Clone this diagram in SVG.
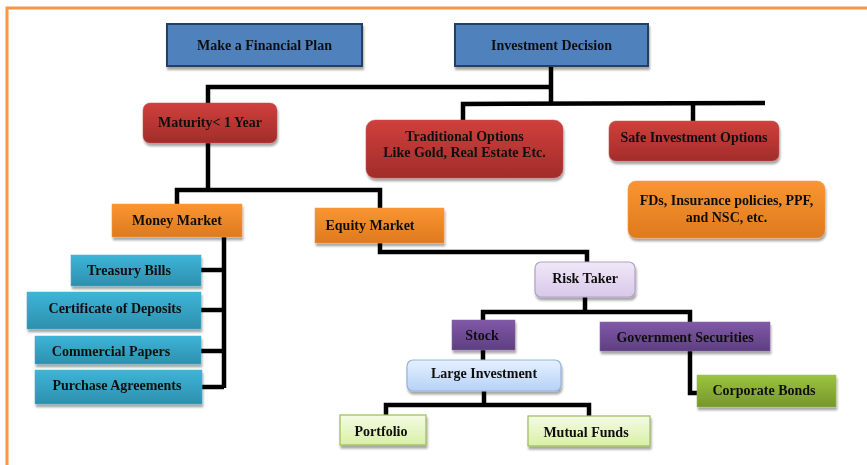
<svg xmlns="http://www.w3.org/2000/svg" width="867" height="465" viewBox="0 0 867 465">
<defs>
<filter id="sh" x="-10%" y="-10%" width="130%" height="140%"><feDropShadow dx="1" dy="3" stdDeviation="1.2" flood-color="#000" flood-opacity="0.35"/></filter>
<linearGradient id="gRed" x1="0" y1="0" x2="0" y2="1"><stop offset="0" stop-color="#CF403C"/><stop offset="1" stop-color="#A22C2A"/></linearGradient>
<linearGradient id="gOr" x1="0" y1="0" x2="0" y2="1"><stop offset="0" stop-color="#FA9532"/><stop offset="1" stop-color="#DE7A1E"/></linearGradient>
<linearGradient id="gTeal" x1="0" y1="0" x2="0" y2="1"><stop offset="0" stop-color="#3DB5D8"/><stop offset="1" stop-color="#2E8FAE"/></linearGradient>
<linearGradient id="gPur" x1="0" y1="0" x2="0" y2="1"><stop offset="0" stop-color="#8058A8"/><stop offset="1" stop-color="#5E3F80"/></linearGradient>
<linearGradient id="gGrn" x1="0" y1="0" x2="0" y2="1"><stop offset="0" stop-color="#9CC43F"/><stop offset="1" stop-color="#76962C"/></linearGradient>
<linearGradient id="gLg" x1="0" y1="0" x2="0" y2="1"><stop offset="0" stop-color="#F4FBE4"/><stop offset="1" stop-color="#D9F0A6"/></linearGradient>
<linearGradient id="gLp" x1="0" y1="0" x2="0" y2="1"><stop offset="0" stop-color="#F0E8F7"/><stop offset="1" stop-color="#D8C8EA"/></linearGradient>
<linearGradient id="gLb" x1="0" y1="0" x2="0" y2="1"><stop offset="0" stop-color="#E6F0FF"/><stop offset="1" stop-color="#B6D2F7"/></linearGradient>
</defs>
<style>
text{font-family:"Liberation Serif","Times New Roman",serif;font-weight:bold;font-size:14px;fill:#111;text-anchor:middle}
.blue{fill:#4F81BD;stroke:#243F60;stroke-width:2}
.red{fill:url(#gRed);stroke:#C0504D;stroke-width:0.5}
.or{fill:url(#gOr);stroke:#F79646;stroke-width:0.5}
.teal{fill:url(#gTeal);stroke:#4BACC6;stroke-width:0.5}
.pur{fill:url(#gPur);stroke:#8064A2;stroke-width:0.5}
.grn{fill:url(#gGrn);stroke:#9BBB59;stroke-width:0.5}
.lg{fill:url(#gLg);stroke:#9BBB59;stroke-width:1.2}
.lp{fill:url(#gLp);stroke:#B2A1C7;stroke-width:1.2}
.lb{fill:url(#gLb);stroke:#95B3D7;stroke-width:1.2}
.box{filter:url(#sh)}
#connectors path{fill:none;stroke:#000;stroke-width:4.5;stroke-linejoin:miter}
</style>
<rect width="867" height="465" fill="#fff"/>
<path d="M7 465 V8 H867" fill="none" stroke="#F79646" stroke-width="3"/>
<g id="connectors">
<path d="M551 66 V104"/>
<path d="M208 104 V87 H551"/>
<path d="M463 121 V104 L765 103"/>
<path d="M693 104 V122"/>
<path d="M208 143 V190"/>
<path d="M177 205 V190 H380 V209"/>
<path d="M224 237 V388"/>
<path d="M201 270 H224"/>
<path d="M201 310 H224"/>
<path d="M201 351 H224"/>
<path d="M202 387 H224"/>
<path d="M380 243 V252 H587 V262"/>
<path d="M585 297 V312"/>
<path d="M483 321 V312 H690 V323"/>
<path d="M483 350 V361"/>
<path d="M690 351 V393 H698"/>
<path d="M484 391 V405"/>
<path d="M386 416 V405 H589 V417"/>
</g>
<g id="n-plan" class="box"><rect class="blue" x="167" y="24" width="195" height="42"/><text x="264.5" y="50">Make a Financial Plan</text></g>
<g id="n-decision" class="box"><rect class="blue" x="455" y="24" width="193" height="42"/><text x="551.5" y="50">Investment Decision</text></g>
<g id="n-maturity" class="box"><rect class="red" x="143" y="103" width="134" height="40" rx="7"/><text x="210" y="127">Maturity&lt; 1 Year</text></g>
<g id="n-traditional" class="box"><rect class="red" x="366" y="120" width="197" height="58" rx="9"/><text x="464.5" y="141" font-size="13">Traditional Options</text><text x="464.5" y="157" font-size="13">Like Gold, Real Estate Etc.</text></g>
<g id="n-safe" class="box"><rect class="red" x="609" y="121" width="170" height="40" rx="7"/><text x="694" y="142" font-size="13">Safe Investment Options</text></g>
<g id="n-fds" class="box"><rect class="or" x="628" y="181" width="197" height="57" rx="8"/><text x="726.5" y="205" font-size="13">FDs, Insurance policies, PPF,</text><text x="726.5" y="222" font-size="13">and NSC, etc.</text></g>
<g id="n-money" class="box"><rect class="or" x="112" y="204" width="130" height="33"/><text x="177" y="225">Money Market</text></g>
<g id="n-equity" class="box"><rect class="or" x="315" y="208" width="129" height="35"/><text x="370" y="230">Equity Market</text></g>
<g id="n-treasury" class="box"><rect class="teal" x="71" y="255" width="130" height="31"/><text x="129" y="275">Treasury Bills</text></g>
<g id="n-certificate" class="box"><rect class="teal" x="27" y="292" width="174" height="37"/><text x="115" y="313">Certificate of Deposits</text></g>
<g id="n-commercial" class="box"><rect class="teal" x="35" y="336" width="166" height="28"/><text x="111" y="356">Commercial Papers</text></g>
<g id="n-purchase" class="box"><rect class="teal" x="35" y="370" width="167" height="34"/><text x="117" y="390">Purchase Agreements</text></g>
<g id="n-risk" class="box"><rect class="lp" x="535" y="262" width="100" height="35" rx="6"/><text x="585" y="283">Risk Taker</text></g>
<g id="n-stock" class="box"><rect class="pur" x="452" y="320" width="63" height="30"/><text x="482" y="340">Stock</text></g>
<g id="n-gov" class="box"><rect class="pur" x="600" y="322" width="170" height="29"/><text x="685" y="342">Government Securities</text></g>
<g id="n-large" class="box"><rect class="lb" x="407" y="360" width="154" height="31" rx="6"/><text x="484" y="378">Large Investment</text></g>
<g id="n-corporate" class="box"><rect class="grn" x="697" y="375" width="139" height="32"/><text x="764" y="395">Corporate Bonds</text></g>
<g id="n-portfolio" class="box"><rect class="lg" x="340" y="415" width="86" height="30"/><text x="381" y="436">Portfolio</text></g>
<g id="n-mutual" class="box"><rect class="lg" x="528" y="416" width="122" height="30"/><text x="586" y="437">Mutual Funds</text></g>
</svg>
